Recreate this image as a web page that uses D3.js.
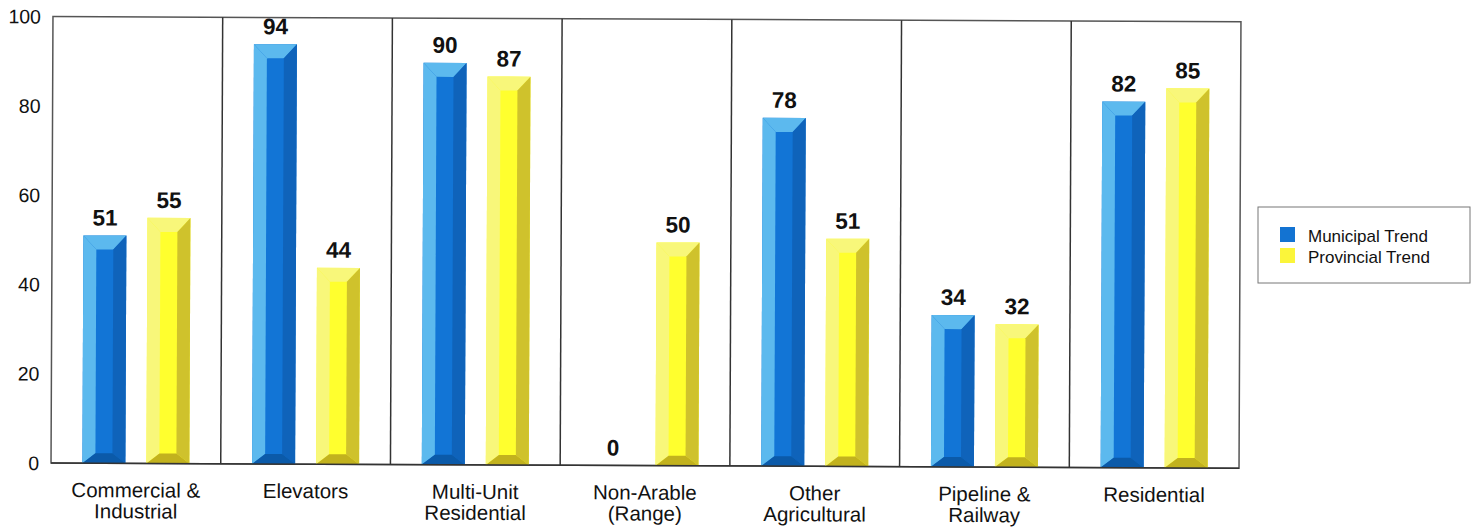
<!DOCTYPE html>
<html>
<head>
<meta charset="utf-8">
<script src="https://cdn.jsdelivr.net/npm/d3@7"></script>
<style>
  html, body { margin: 0; padding: 0; background: #fff; }
  svg { display: block; font-family: "Liberation Sans", Arial, sans-serif; }
</style>
</head>
<body>
<svg id="chart" width="1474" height="529"></svg>
<script>
// ---- data ----
const categories = [
  ["Commercial &", "Industrial"],
  ["Elevators"],
  ["Multi-Unit", "Residential"],
  ["Non-Arable", "(Range)"],
  ["Other", "Agricultural"],
  ["Pipeline &", "Railway"],
  ["Residential"]
];
const seriesNames = ["Municipal Trend", "Provincial Trend"];
const municipal = [51, 94, 90, 0, 78, 34, 82];
const provincial = [55, 44, 87, 50, 51, 32, 85];
const yTicks = [0, 20, 40, 60, 80, 100];

// ---- layout ----
const svg = d3.select("#chart");
const plotLeft = 52, plotRight = 1240, plotTop = 16.5, plotBottom = 463;
const catKeys = categories.map(c => c.join(" "));

const x = d3.scaleBand().domain(catKeys).range([plotLeft, plotRight]).padding(0);
const xs = d3.scalePoint().domain(seriesNames).range([0, x.bandwidth()]).padding(0.826);
const y = d3.scaleLinear().domain([0, 100]).range([plotBottom, plotTop]);

const palettes = {
  "Municipal Trend": { light: "#5cb9ee", front: "#1275d6", right: "#0f63ba", bottom: "#0b5aa9", swatch: "#1373d2" },
  "Provincial Trend": { light: "#f8f77a", front: "#ffff2e", right: "#cfc22c", bottom: "#c2b21e", swatch: "#fbf53a" }
};

// slight scan tilt of the original page
const g = svg.append("g").attr("transform", "rotate(0.25, 52, 240)");
// frame
g.append("rect").attr("x", plotLeft).attr("y", plotTop).attr("width", plotRight - plotLeft).attr("height", plotBottom - plotTop)
  .attr("fill", "none").attr("stroke", "#555").attr("stroke-width", 1.5);

// dividers
g.selectAll("line.div").data(catKeys.slice(1)).join("line")
  .attr("class", "div")
  .attr("x1", d => x(d)).attr("x2", d => x(d))
  .attr("y1", plotTop).attr("y2", plotBottom)
  .attr("stroke", "#333").attr("stroke-width", 1.5);

// y axis labels
g.selectAll("text.yt").data(yTicks).join("text")
  .attr("class", "yt")
  .attr("x", 40).attr("y", d => y(d))
  .attr("dy", "0.36em")
  .attr("text-anchor", "end")
  .attr("font-size", 19.5)
  .attr("fill", "#111")
  .text(d => d);

// bars
const barW = 43, bv = 13, bt = 14, bb = 10;
const rows = [];
categories.forEach((c, i) => {
  rows.push({ cat: catKeys[i], s: seriesNames[0], v: municipal[i] });
  rows.push({ cat: catKeys[i], s: seriesNames[1], v: provincial[i] });
});

const poly = pts => pts.map(q => q.join(",")).join(" ");
const bars = g.selectAll("g.bar").data(rows).join("g").attr("class", "bar");
bars.each(function(d) {
  const sel = d3.select(this);
  const cx = x(d.cat) + xs(d.s);
  const x0 = cx - barW / 2, x1 = cx + barW / 2;
  const y0 = y(d.v), y1 = y(0);
  const p = palettes[d.s];
  if (y1 - y0 > 0.5) {
    const h = y1 - y0;
    const tb = Math.min(bt, h / 2), btm = Math.min(bb, h / 2);
    const ix0 = x0 + bv, ix1 = x1 - bv, iy0 = y0 + tb, iy1 = y1 - btm;
    sel.append("rect").attr("x", x0).attr("y", y0).attr("width", barW).attr("height", h).attr("fill", p.front);
    sel.append("polygon").attr("points", poly([[x0, y0], [ix0, iy0], [ix0, iy1], [x0, y1]])).attr("fill", p.light);
    sel.append("polygon").attr("points", poly([[x0, y0], [x1, y0], [ix1, iy0], [ix0, iy0]])).attr("fill", p.light);
    sel.append("polygon").attr("points", poly([[x1, y0], [x1, y1], [ix1, iy1], [ix1, iy0]])).attr("fill", p.right);
    sel.append("polygon").attr("points", poly([[x0, y1], [ix0, iy1], [ix1, iy1], [x1, y1]])).attr("fill", p.bottom);
  }
  sel.append("text")
    .attr("x", cx).attr("y", y0 - 10)
    .attr("text-anchor", "middle")
    .attr("font-size", 22.5).attr("font-weight", "bold")
    .attr("fill", "#111")
    .text(d.v);
});

// bottom axis line
g.append("line").attr("x1", plotLeft).attr("x2", plotRight).attr("y1", plotBottom).attr("y2", plotBottom)
  .attr("stroke", "#333").attr("stroke-width", 1.5);

// category labels
const cl = g.selectAll("text.cat").data(categories).join("text")
  .attr("class", "cat")
  .attr("text-anchor", "middle")
  .attr("font-size", 20.5)
  .attr("fill", "#111");
cl.each(function(lines, i) {
  const t = d3.select(this);
  lines.forEach((ln, j) => {
    t.append("tspan").attr("x", x(catKeys[i]) + x.bandwidth() / 2).attr("y", 497 + j * 21).text(ln);
  });
});

// legend
const lg = svg.append("g");
lg.append("rect").attr("x", 1258).attr("y", 207).attr("width", 212).attr("height", 76)
  .attr("fill", "#fff").attr("stroke", "#777").attr("stroke-width", 1);
seriesNames.forEach((s, i) => {
  lg.append("rect").attr("x", 1280).attr("y", 227 + i * 21).attr("width", 15).attr("height", 15)
    .attr("fill", palettes[s].swatch);
  lg.append("text").attr("x", 1308).attr("y", 242 + i * 21)
    .attr("font-size", 17).attr("fill", "#111").text(s);
});
</script>
</body>
</html>
